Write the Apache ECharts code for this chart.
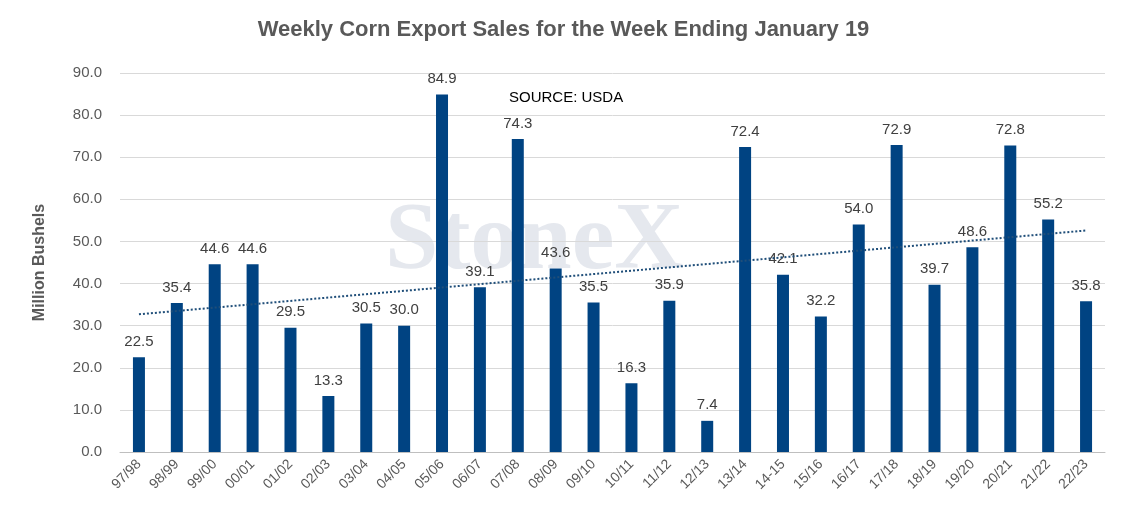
<!DOCTYPE html>
<html><head><meta charset="utf-8">
<script src="https://cdn.jsdelivr.net/npm/echarts@6/dist/echarts.min.js"></script>
<style>body{margin:0}#c{width:1127px;height:527px}</style></head>
<body><div id="c"></div>
<script>
var years = ['97/98','98/99','99/00','00/01','01/02','02/03','03/04','04/05','05/06','06/07','07/08','08/09','09/10','10/11','11/12','12/13','13/14','14-15','15/16','16/17','17/18','18/19','19/20','20/21','21/22','22/23'];
var sales = [22.5,35.4,44.6,44.6,29.5,13.3,30.5,30.0,84.9,39.1,74.3,43.6,35.5,16.3,35.9,7.4,72.4,42.1,32.2,54.0,72.9,39.7,48.6,72.8,55.2,35.8];
var trendEnds = [32.7, 52.6];

var myChart = echarts.init(document.getElementById('c'));
myChart.setOption({
  textStyle: {fontFamily: 'Arial, Liberation Sans'},
  title: {text: 'Weekly Corn Export Sales for the Week Ending January 19', left: 'center', top: 14,
    textStyle: {fontSize: 22, fontWeight: 'bold', color: '#595959'}},
  graphic: [
    {type: 'text', left: 385, top: 195, style: {text: 'StoneX', fontSize: 96, fontWeight: 'bold', fontFamily: 'Liberation Serif', fill: 'rgba(180,190,205,0.35)'}},
    {type: 'text', left: 509, top: 90, style: {text: 'SOURCE: USDA', fontSize: 15, fill: '#000'}}
  ],
  grid: {left: 120, right: 22, top: 73, bottom: 75},
  xAxis: {type: 'category', data: years,
    axisLine: {lineStyle: {color: '#bfbfbf'}}, axisTick: {show: false},
    axisLabel: {rotate: 45, color: '#595959', fontSize: 14, interval: 0, margin: 10}},
  yAxis: {type: 'value', min: 0, max: 90, interval: 10, name: 'Million Bushels', nameLocation: 'middle', nameGap: 72,
    nameTextStyle: {fontSize: 16, fontWeight: 'bold', color: '#595959'},
    axisLabel: {formatter: function(v){return v.toFixed(1);}, color: '#595959', fontSize: 15, margin: 18},
    splitLine: {lineStyle: {color: '#d9d9d9'}}},
  series: [{type: 'bar', data: sales, barWidth: 12, itemStyle: {color: '#004382'},
    label: {show: true, position: 'top', color: '#404040', fontSize: 15, distance: 8,
      formatter: function(p){return p.value.toFixed(1);}},
    markLine: {symbol: 'none', silent: true, label: {show: false},
      lineStyle: {type: 'dotted', color: '#1f4e79', width: 2},
      data: [[{coord: [years[0], trendEnds[0]]}, {coord: [years[years.length-1], trendEnds[1]]}]]}
  }]
});
</script></body></html>
